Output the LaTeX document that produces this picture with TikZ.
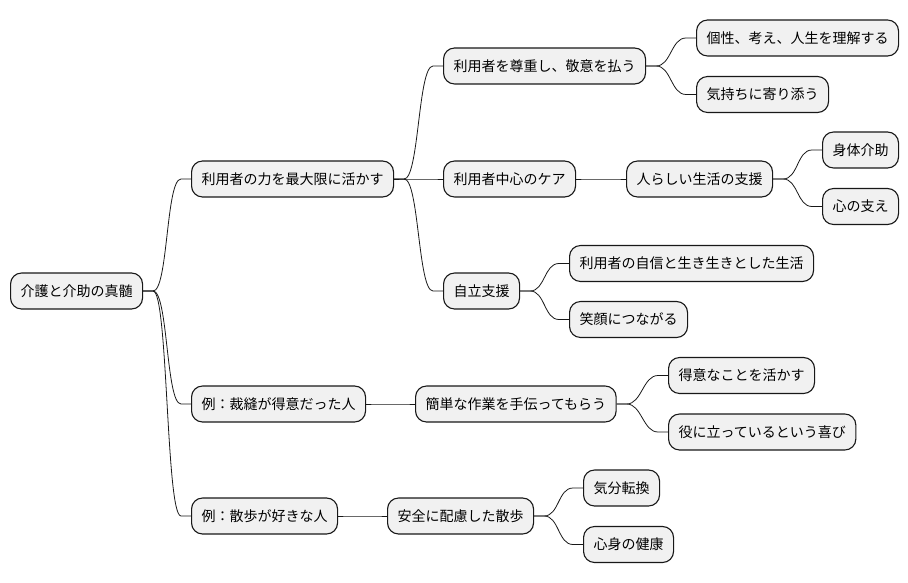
\documentclass[tikz,border=0pt]{standalone}
\usepackage{fontspec}
\setmainfont{Noto Sans CJK JP}
\definecolor{nodefill}{HTML}{F1F1F1}
\definecolor{lineclr}{HTML}{181818}
\tikzset{
  mm/.style={draw=lineclr, fill=nodefill, line width=1.1pt, rounded corners=11pt,
    anchor=west, minimum height=36pt, inner xsep=10pt, inner ysep=0pt,
    font=\fontsize{14pt}{16pt}\selectfont},
  conn/.style={draw=lineclr, line width=0.8pt}
}
\newcommand\mmbranch[2]{\draw[conn] (#1.east) -- ++(10,0) .. controls +(15,0) and +(-15,0) .. ([xshift=-10pt]#2.west) -- (#2.west);}
\begin{document}
\begin{tikzpicture}[x=1pt,y=-1pt]
\useasboundingbox (0,0) rectangle (908,583);
\node[mm] (root) at (10,291) {介護と介助の真髄};
\node[mm] (A) at (191,179) {利用者の力を最大限に活かす};
\node[mm] (A1) at (443,66) {利用者を尊重し、敬意を払う};
\node[mm] (A1a) at (696,38) {個性、考え、人生を理解する};
\node[mm] (A1b) at (696,94.5) {気持ちに寄り添う};
\node[mm] (A2) at (443,179) {利用者中心のケア};
\node[mm] (A2x) at (626,179) {人らしい生活の支援};
\node[mm] (A2x1) at (822,150) {身体介助};
\node[mm] (A2x2) at (822,206.5) {心の支え};
\node[mm] (A3) at (443,291) {自立支援};
\node[mm] (A3a) at (569,263.5) {利用者の自信と生き生きとした生活};
\node[mm] (A3b) at (569,319.5) {笑顔につながる};
\node[mm] (B) at (191,404) {例：裁縫が得意だった人};
\node[mm] (B1) at (415,404) {簡単な作業を手伝ってもらう};
\node[mm] (B1a) at (668,375.5) {得意なことを活かす};
\node[mm] (B1b) at (668,432) {役に立っているという喜び};
\node[mm] (C) at (191,516) {例：散歩が好きな人};
\node[mm] (C1) at (387,516) {安全に配慮した散歩};
\node[mm] (C1a) at (583,488) {気分転換};
\node[mm] (C1b) at (583,544.5) {心身の健康};
\mmbranch{root}{A}
\mmbranch{root}{B}
\mmbranch{root}{C}
\mmbranch{A}{A1}
\mmbranch{A}{A2}
\mmbranch{A}{A3}
\mmbranch{A1}{A1a}
\mmbranch{A1}{A1b}
\mmbranch{A2}{A2x}
\mmbranch{A2x}{A2x1}
\mmbranch{A2x}{A2x2}
\mmbranch{A3}{A3a}
\mmbranch{A3}{A3b}
\mmbranch{B}{B1}
\mmbranch{B1}{B1a}
\mmbranch{B1}{B1b}
\mmbranch{C}{C1}
\mmbranch{C1}{C1a}
\mmbranch{C1}{C1b}
\end{tikzpicture}
\end{document}
